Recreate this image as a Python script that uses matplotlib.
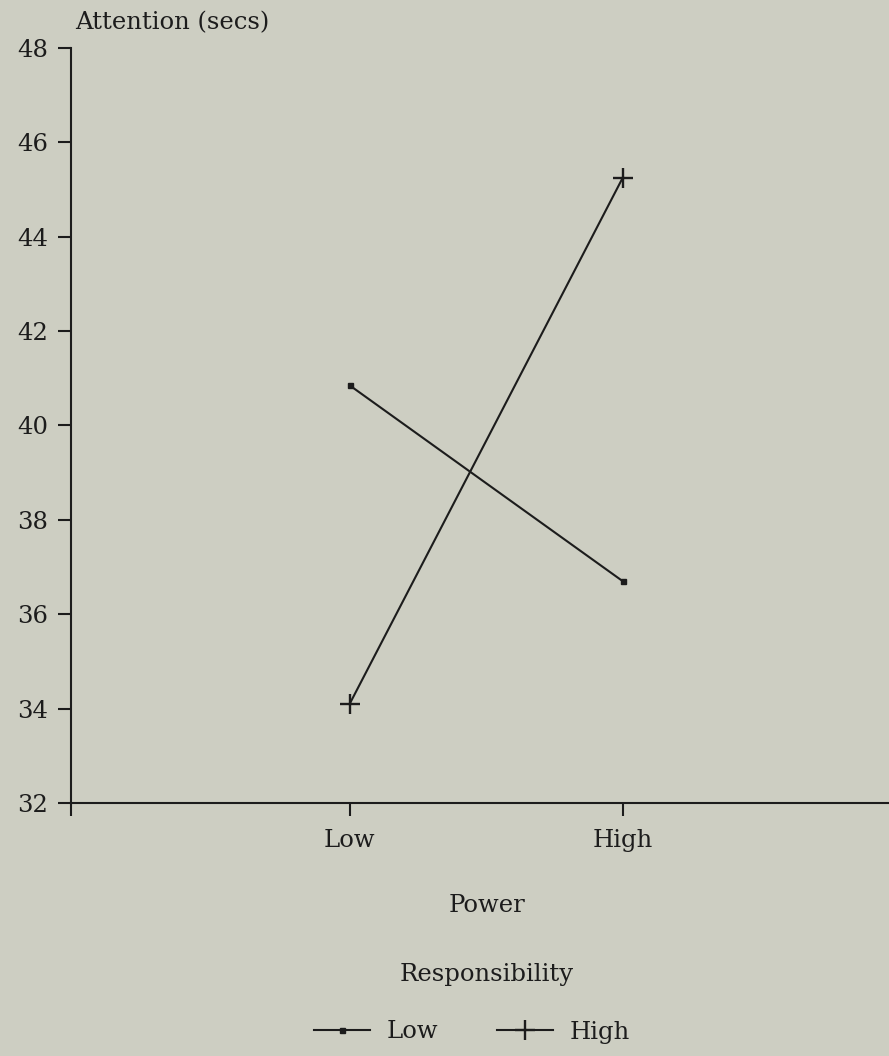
import matplotlib.pyplot as plt

plt.rcParams['font.family'] = ['DejaVu Serif']

power_levels = ['Low', 'High']
y_ticks = [32, 34, 36, 38, 40, 42, 44, 46, 48]
resp_low = [40.85, 36.7]
resp_high = [34.1, 45.25]

bg = '#cdcec2'
ink = '#1c1c1c'
fs = 17.5

fig = plt.figure(figsize=(8.89, 10.56), dpi=100, facecolor=bg)
ax = fig.add_axes([0.08, 0.2396, 0.92, 0.7150], facecolor=bg)

x = [1, 2]
ax.plot(x, resp_low, color=ink, lw=1.5, marker='s', ms=3.6, label='Low')
ax.plot(x, resp_high, color=ink, lw=1.5, marker='+', ms=14, mew=1.7, label='High')

ax.set_xlim(-0.02, 2.975)
ax.set_ylim(32, 48)
ax.set_yticks(y_ticks)
ax.set_xticks([-0.02] + x)
ax.set_xticklabels([''] + power_levels)

for s in ['top', 'right']:
    ax.spines[s].set_visible(False)
for s in ['left', 'bottom']:
    ax.spines[s].set_color(ink)
    ax.spines[s].set_linewidth(1.5)

ax.tick_params(axis='y', direction='out', length=9.5, width=1.5, color=ink,
               labelsize=fs, labelcolor=ink, pad=7)
ax.tick_params(axis='x', direction='out', length=9, width=1.5, color=ink,
               labelsize=fs, labelcolor=ink, pad=10)

fig.text(75 / 889, 1 - 23 / 1056, 'Attention (secs)', fontsize=fs, color=ink,
         ha='left', va='center')
fig.text(487 / 889, 1 - 905 / 1056, 'Power', fontsize=fs, color=ink,
         ha='center', va='center')
fig.text(487 / 889, 1 - 975 / 1056, 'Responsibility', fontsize=fs, color=ink,
         ha='center', va='center')

leg = fig.legend(loc='center', bbox_to_anchor=(472 / 889, 1 - 1032 / 1056),
                 ncol=2, frameon=False, fontsize=fs, handlelength=2.3,
                 handletextpad=0.7, columnspacing=2.4)
for t in leg.get_texts():
    t.set_color(ink)

fig.savefig('out.png', dpi=100, facecolor=bg)
